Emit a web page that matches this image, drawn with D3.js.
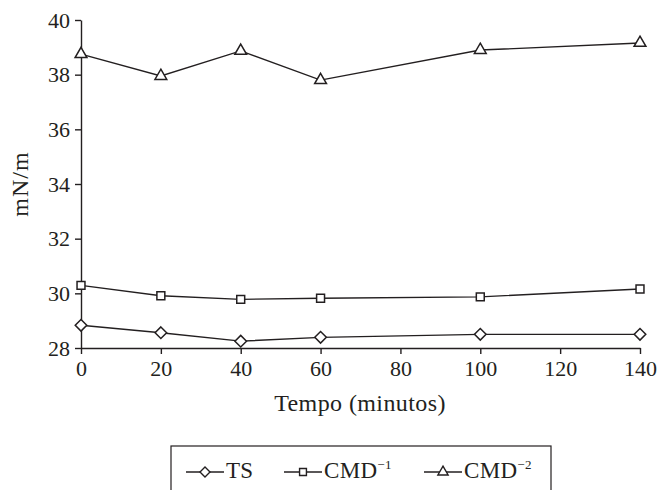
<!DOCTYPE html>
<html>
<head>
<meta charset="utf-8">
<script src="https://cdn.jsdelivr.net/npm/d3@7"></script>
<style>
  body { margin: 0; background: #fff; }
  svg text { font-family: "Liberation Serif", "DejaVu Serif", serif; fill: #231f20; }
</style>
</head>
<body>
<svg id="chart" width="660" height="490"></svg>
<script>
// data
const tempo = [0, 20, 40, 60, 100, 140];
const ts = [28.83, 28.56, 28.25, 28.39, 28.5, 28.5];
const cmd1 = [30.29, 29.91, 29.78, 29.82, 29.87, 30.16];
const cmd2 = [38.75, 37.95, 38.87, 37.8, 38.9, 39.16];
const xTicks = [0, 20, 40, 60, 80, 100, 120, 140];
const yTicks = [28, 30, 32, 34, 36, 38, 40];

const svg = d3.select('#chart');
const ink = '#231f20';

let x = d3.scaleLinear().domain([0, 140]).range([81, 640]);
let y = d3.scaleLinear().domain([28, 40]).range([348, 20]);

let xaxis = d3.axisBottom(x).tickValues(xTicks).tickSize(6).tickPadding(6).tickSizeOuter(0);
let yaxis = d3.axisLeft(y).tickValues(yTicks).tickSize(6).tickPadding(5).tickSizeOuter(0);

let gx = svg.append('g').attr('transform', 'translate(0,348)').call(xaxis);
let gy = svg.append('g').attr('transform', 'translate(81,0)').call(yaxis);

[gx, gy].forEach(g => {
    g.select('.domain').attr('stroke', ink).attr('stroke-width', 1.4);
    g.selectAll('.tick line').attr('stroke', ink).attr('stroke-width', 1.4);
    g.selectAll('.tick text').style('font-size', '22px').attr('fill', ink);
});

svg.append('text')
    .attr('x', 360).attr('y', 411)
    .attr('text-anchor', 'middle')
    .style('font-size', '24px')
    .style('letter-spacing', '0.4px')
    .text('Tempo (minutos)');

svg.append('text')
    .attr('transform', 'translate(28,184) rotate(-90)')
    .attr('text-anchor', 'middle')
    .style('font-size', '24px')
    .style('letter-spacing', '1px')
    .text('mN/m');

const series = [
    { name: 'TS', values: ts, sym: d3.symbolDiamond2, size: 85 },
    { name: 'CMD', sup: '−1', values: cmd1, sym: d3.symbolSquare2, size: 80 },
    { name: 'CMD', sup: '−2', values: cmd2, sym: d3.symbolTriangle2, size: 100 }
];

let line = d3.line().x((d, i) => x(tempo[i])).y(d => y(d));

series.forEach(s => {
    svg.append('path')
        .attr('d', line(s.values))
        .attr('fill', 'none')
        .attr('stroke', ink)
        .attr('stroke-width', 1.4);

    svg.selectAll(null)
        .data(s.values)
        .enter()
        .append('path')
        .attr('d', d3.symbol().type(s.sym).size(s.size))
        .attr('transform', (d, i) => `translate(${x(tempo[i])},${y(d)})`)
        .attr('fill', '#fff')
        .attr('stroke', ink)
        .attr('stroke-width', 1.5);
});

// legend
let legend = svg.append('g');
legend.append('rect')
    .attr('x', 171).attr('y', 446)
    .attr('width', 380).attr('height', 60)
    .attr('fill', 'none')
    .attr('stroke', ink)
    .attr('stroke-width', 1.2);

const legX = [186, 284, 424];
series.forEach((s, i) => {
    let g = legend.append('g').attr('transform', `translate(${legX[i]},472)`);
    g.append('line')
        .attr('x1', 0).attr('x2', 38)
        .attr('stroke', ink).attr('stroke-width', 1.4);
    g.append('path')
        .attr('d', d3.symbol().type(s.sym).size(s.size * 0.75))
        .attr('transform', 'translate(19,0)')
        .attr('fill', '#fff')
        .attr('stroke', ink)
        .attr('stroke-width', 1.4);
    let t = g.append('text')
        .attr('x', 40).attr('y', 6)
        .style('font-size', '23px')
        .style('letter-spacing', '0.3px')
        .text(s.name);
    if (s.sup) {
        t.append('tspan')
            .attr('dy', -9)
            .style('font-size', '13px')
            .text(s.sup);
    }
});
</script>
</body>
</html>
